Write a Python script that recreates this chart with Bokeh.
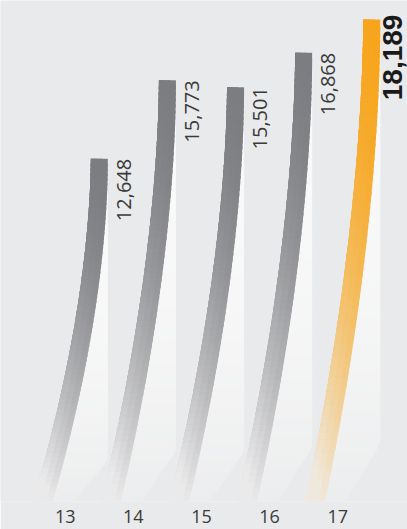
import math
from bokeh.plotting import figure
from bokeh.models import ColumnDataSource, FixedTicker
from bokeh.core.properties import value
from bokeh.embed import file_html
from bokeh.resources import INLINE

# ---- data ----
years = ["13", "14", "15", "16", "17"]
values = [12648, 15773, 15501, 16868, 18189]
value_labels = ["12,648", "15,773", "15,501", "16,868", "18,189"]
highlight = [False, False, False, False, True]
xpos = [0, 1, 2, 3, 4]

# ---- style ----
BG = "#e9eaeb"
GRAY_TOP = "#7c7d81"
GRAY_END = "#eaeaeb"
ORANGE_TOP = "#f7a51c"
ORANGE_END = "#efe8dc"
TEXT = "#3a3a3a"

TOP_OFF = 0.375     # bar top-left offset from category position (x units)
W0, W1 = 0.25, 0.29  # bar width at top / bottom
BEND = 0.85          # horizontal sweep to the left at the bottom
Y_BOT = -1000        # where the swoosh fades out (value units)
N = 70


def hex2rgb(h):
    h = h.lstrip("#")
    return [int(h[i:i + 2], 16) for i in (0, 2, 4)]


def blend(c1, c2, m):
    m = max(0.0, min(1.0, m))
    a, b = hex2rgb(c1), hex2rgb(c2)
    return "#%02x%02x%02x" % tuple(int(round(a[k] + (b[k] - a[k]) * m)) for k in range(3))


def xl(x0, t):
    return x0 - BEND * t ** 1.75


def wd(t):
    return W0 + (W1 - W0) * t


bar_xs, bar_ys, bar_col = [], [], []
hl_xs, hl_ys, hl_col = [], [], []

for i, v in enumerate(values):
    x0 = xpos[i] + TOP_OFF
    xr_top = x0 + W0
    top_c, end_c = (ORANGE_TOP, ORANGE_END) if highlight[i] else (GRAY_TOP, GRAY_END)

    def rb(t):
        if t <= 0.88:
            return xr_top
        f = (t - 0.88) / 0.12
        return xr_top + (xl(x0, 1.0) + wd(1.0) + 0.3 - xr_top) * f

    for k in range(N):
        t0 = k / N
        t1 = min(1.0, (k + 1.5) / N)
        y0 = v - t0 * (v - Y_BOT)
        y1 = v - t1 * (v - Y_BOT)
        a0, a1 = xl(x0, t0), xl(x0, t1)
        tm = (t0 + t1) / 2
        # white highlight strip to the right of the swoosh (opaque, blended with bg)
        l0, l1 = a0 + wd(t0) - 0.02, a1 + wd(t1) - 0.02
        r0, r1 = rb(t0), rb(t1)
        if r0 > l0 or r1 > l1:
            hl_xs.append([l0, max(l0, r0), max(l1, r1), l1])
            hl_ys.append([y0, y0, y1, y1])
            hl_col.append(blend("#fbfbfb", BG, 0.1 + 0.75 * tm ** 2.5))
        m = tm ** 2.0
        # full width (darker right side), then lighter left parts on top
        for frac, extra in ((1.0, 0.0), (0.66, 0.07), (0.33, 0.14)):
            bar_xs.append([a0, a0 + wd(t0) * frac, a1 + wd(t1) * frac, a1])
            bar_ys.append([y0, y0, y1, y1])
            bar_col.append(blend(top_c, end_c, m + extra * tm))

p = figure(width=407, height=529, output_backend="svg", toolbar_location=None,
           x_range=(-0.951, 5.025), y_range=(-995, 18950),
           min_border_left=0, min_border_right=0, min_border_top=0, min_border_bottom=28)
p.background_fill_color = BG
p.border_fill_color = BG
p.outline_line_color = None
p.grid.visible = False
p.yaxis.visible = False

p.patches(xs=hl_xs, ys=hl_ys, fill_color=hl_col, line_color=None)
p.patches(xs=bar_xs, ys=bar_ys, fill_color=bar_col, line_color=None)

# value labels
reg_idx = [i for i in range(len(values)) if not highlight[i]]
src = ColumnDataSource(dict(
    x=[xpos[i] + TOP_OFF + W0 + 0.13 for i in reg_idx],
    y=[values[i] for i in reg_idx],
    t=[value_labels[i] for i in reg_idx]))
p.text(x="x", y="y", text="t", source=src, angle=math.pi / 2,
       text_align="right", text_baseline="top",
       text_font=value("Open Sans"), text_font_size="20px", text_color=TEXT)

hi_idx = [i for i in range(len(values)) if highlight[i]]
src2 = ColumnDataSource(dict(
    x=[xpos[i] + TOP_OFF + W0 + 0.04 for i in hi_idx],
    y=[values[i] + 200 for i in hi_idx],
    t=[value_labels[i] for i in hi_idx]))
p.text(x="x", y="y", text="t", source=src2, angle=math.pi / 2,
       text_align="right", text_baseline="top",
       text_font=value("Liberation Sans"), text_font_style="bold",
       text_font_size="28px", text_color="#1a1a1a")

xa = p.xaxis[0]
xa.ticker = FixedTicker(ticks=xpos)
xa.major_label_overrides = {x: y for x, y in zip(xpos, years)}
xa.axis_line_color = None
xa.major_tick_line_color = None
xa.minor_tick_line_color = None
xa.major_label_standoff = 2
xa.major_label_text_font = "Open Sans"
xa.major_label_text_font_size = "18px"
xa.major_label_text_color = TEXT

open("out.html", "w").write(file_html(p, INLINE))
